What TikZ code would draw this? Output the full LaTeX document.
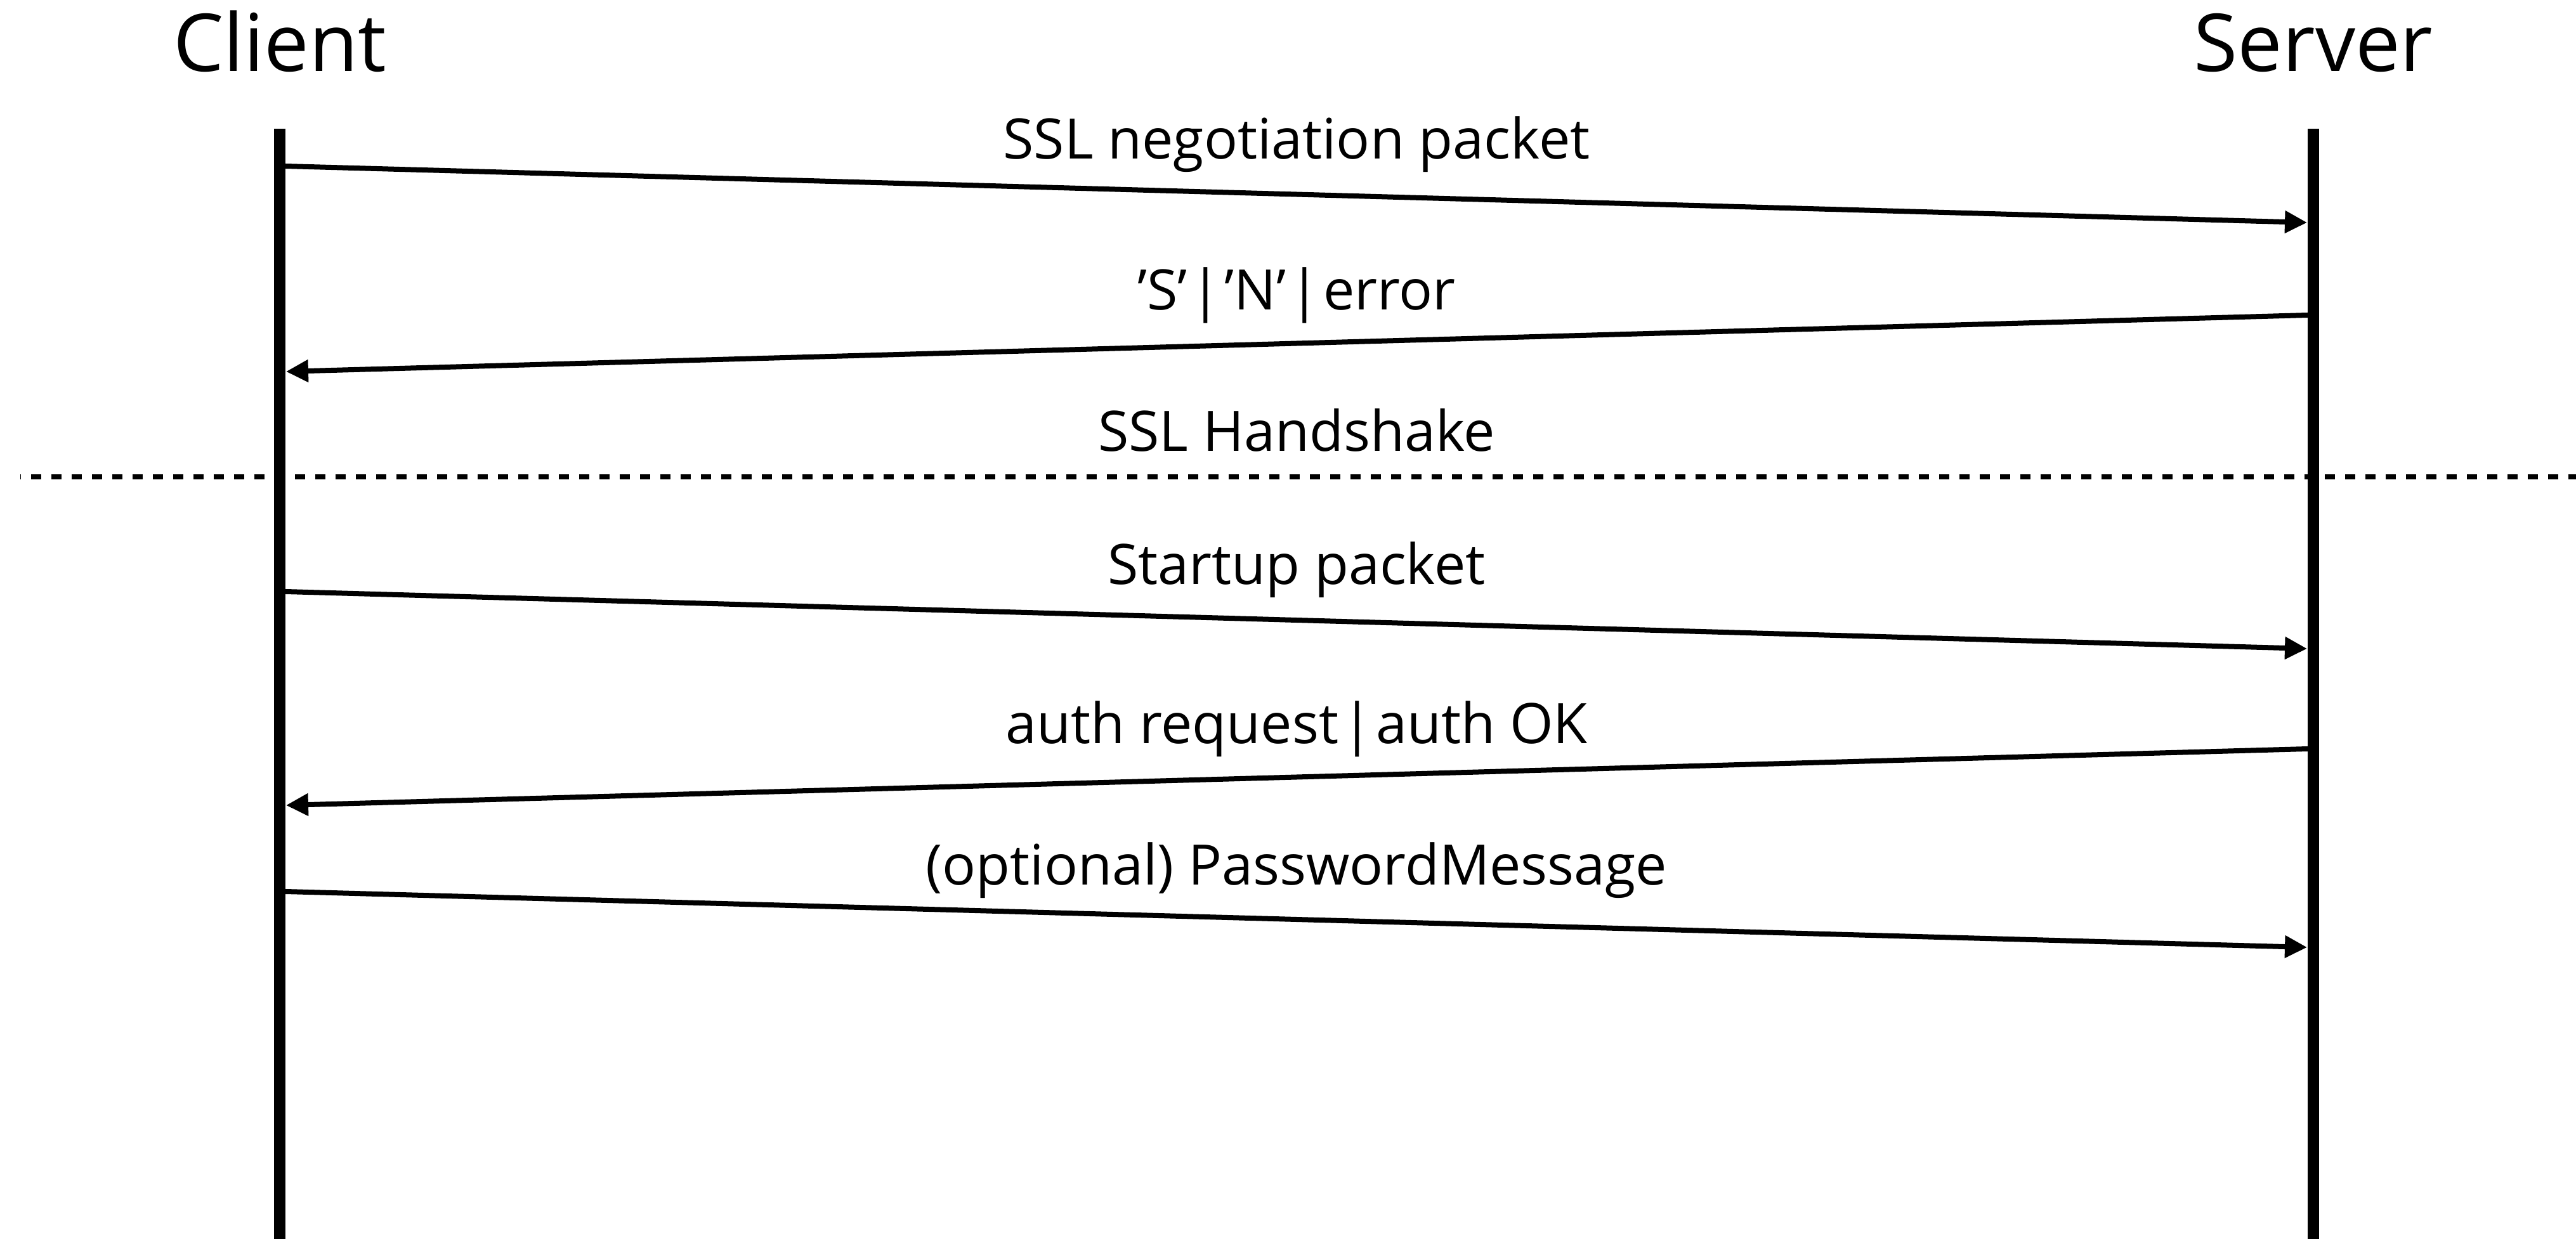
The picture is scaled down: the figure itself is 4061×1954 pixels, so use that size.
\documentclass[tikz,border=0pt]{standalone}
\usepackage{fontspec}
\setmainfont{Open Sans}
\usetikzlibrary{arrows.meta}
\newcommand{\barsep}{\hspace{0.06em}|\hspace{0.06em}}
\tikzset{
  lifeline/.style={line width=4.65pt},
  msg/.style={line width=2pt,-{Triangle[length=8.75pt,width=8.5pt]}},
  msglabel/.style={anchor=base,inner sep=0pt,font=\fontsize{22}{26}\selectfont},
  title/.style={anchor=base,inner sep=0pt,font=\fontsize{31.5}{38}\selectfont},
  sep/.style={line width=2pt,dash pattern=on 4pt off 4pt,dash phase=3.75pt}
}
\begin{document}
\begin{tikzpicture}[x=0.25pt,y=-0.25pt]
\useasboundingbox (0,0) rectangle (4061,1954);
% titles
\node[title] (client) at (441,113) {Client};
\node[title] (server) at (3647,113) {Server};
% separator
\coordinate (dl) at (32,752);
\coordinate (dr) at (4061,752);
\draw[sep] (dl) -- (dr);
\node[msglabel] (hs) at (2044,712) {SSL Handshake};
% lifelines
\coordinate (ct) at (441,203);
\coordinate (cb) at (441,1960);
\coordinate (st) at (3647,203);
\coordinate (sb) at (3647,1960);
\draw[lifeline] (ct) -- (cb);
\draw[lifeline] (st) -- (sb);
% messages
\coordinate (c1) at (450,262);  \coordinate (s1) at (3637,351);
\coordinate (s2) at (3638,497); \coordinate (c2) at (451,586);
\coordinate (c3) at (450,933);  \coordinate (s3) at (3637,1023);
\coordinate (s4) at (3638,1181); \coordinate (c4) at (451,1270);
\coordinate (c5) at (450,1406); \coordinate (s5) at (3637,1494);
\draw[msg] (c1) -- (s1);
\draw[msg] (s2) -- (c2);
\draw[msg] (c3) -- (s3);
\draw[msg] (s4) -- (c4);
\draw[msg] (c5) -- (s5);
\node[msglabel] (l1) at (2044,251) {SSL negotiation packet};
\node[msglabel] (l2) at (2044,489) {’S’\barsep’N’\barsep error};
\node[msglabel] (l3) at (2044,922) {Startup packet};
\node[msglabel] (l4) at (2044,1173) {auth request\barsep auth OK};
\node[msglabel] (l5) at (2044,1396) {(optional) PasswordMessage};
\end{tikzpicture}
\end{document}
